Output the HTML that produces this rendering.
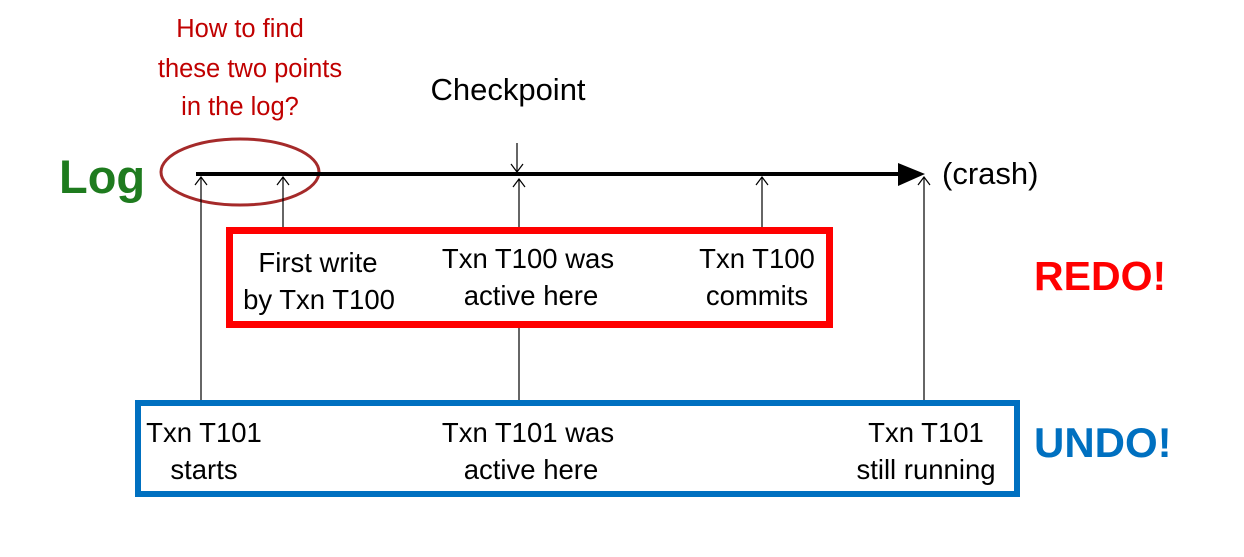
<!DOCTYPE html>
<html><head><meta charset="utf-8"><style>
html,body{margin:0;padding:0;background:#fff;}
svg{display:block;}
text{font-family:"Liberation Sans",sans-serif;}
</style></head><body>
<svg width="1244" height="557" viewBox="0 0 1244 557">
<g fill="#c00000" font-size="25.5" text-anchor="middle">
<text x="240" y="37">How to find</text>
<text x="250" y="77">these two points</text>
<text x="240" y="115">in the log?</text>
</g>
<text x="508" y="100" font-size="31" text-anchor="middle">Checkpoint</text>
<text x="59" y="193" font-size="47" font-weight="bold" fill="#1e7b1e">Log</text>
<ellipse cx="240" cy="172" rx="79" ry="33" fill="none" stroke="#a52a2a" stroke-width="3"/>
<line x1="196" y1="174" x2="905" y2="174" stroke="#000" stroke-width="4"/>
<polygon points="898,163 925,174 898,186" fill="#000"/>
<text x="942" y="184" font-size="31">(crash)</text>
<g stroke="#000" stroke-width="1.2" fill="none">
<line x1="517" y1="143" x2="517" y2="172"/>
<path d="M511,164 L517,172 L523,164"/>
<line x1="201" y1="400" x2="201" y2="177"/>
<path d="M195,185 L201,177 L207,185"/>
<line x1="283" y1="227" x2="283" y2="177"/>
<path d="M277,185 L283,177 L289,185"/>
<line x1="519" y1="227" x2="519" y2="179"/>
<path d="M513,187 L519,179 L525,187"/>
<line x1="519" y1="327" x2="519" y2="400"/>
<line x1="762" y1="227" x2="762" y2="177"/>
<path d="M756,185 L762,177 L768,185"/>
<line x1="924" y1="400" x2="924" y2="177"/>
<path d="M918,185 L924,177 L930,185"/>
</g>
<rect x="229.5" y="230.5" width="600" height="94" fill="none" stroke="#ff0000" stroke-width="7"/>
<g font-size="27.5" text-anchor="middle" fill="#000">
<text x="318" y="272">First write</text>
<text x="319" y="309">by Txn T100</text>
<text x="528" y="268">Txn T100 was</text>
<text x="531" y="305">active here</text>
<text x="757" y="268">Txn T100</text>
<text x="757" y="305">commits</text>
</g>
<text x="1034" y="290" font-size="41" font-weight="bold" fill="#ff0000">REDO!</text>
<rect x="138" y="403" width="879" height="91" fill="none" stroke="#0070c0" stroke-width="6"/>
<g font-size="27.5" text-anchor="middle" fill="#000">
<text x="204" y="442">Txn T101</text>
<text x="204" y="479">starts</text>
<text x="528" y="442">Txn T101 was</text>
<text x="531" y="479">active here</text>
<text x="926" y="442">Txn T101</text>
<text x="926" y="479">still running</text>
</g>
<text x="1034" y="457" font-size="42" font-weight="bold" fill="#0070c0">UNDO!</text>
</svg>
</body></html>
